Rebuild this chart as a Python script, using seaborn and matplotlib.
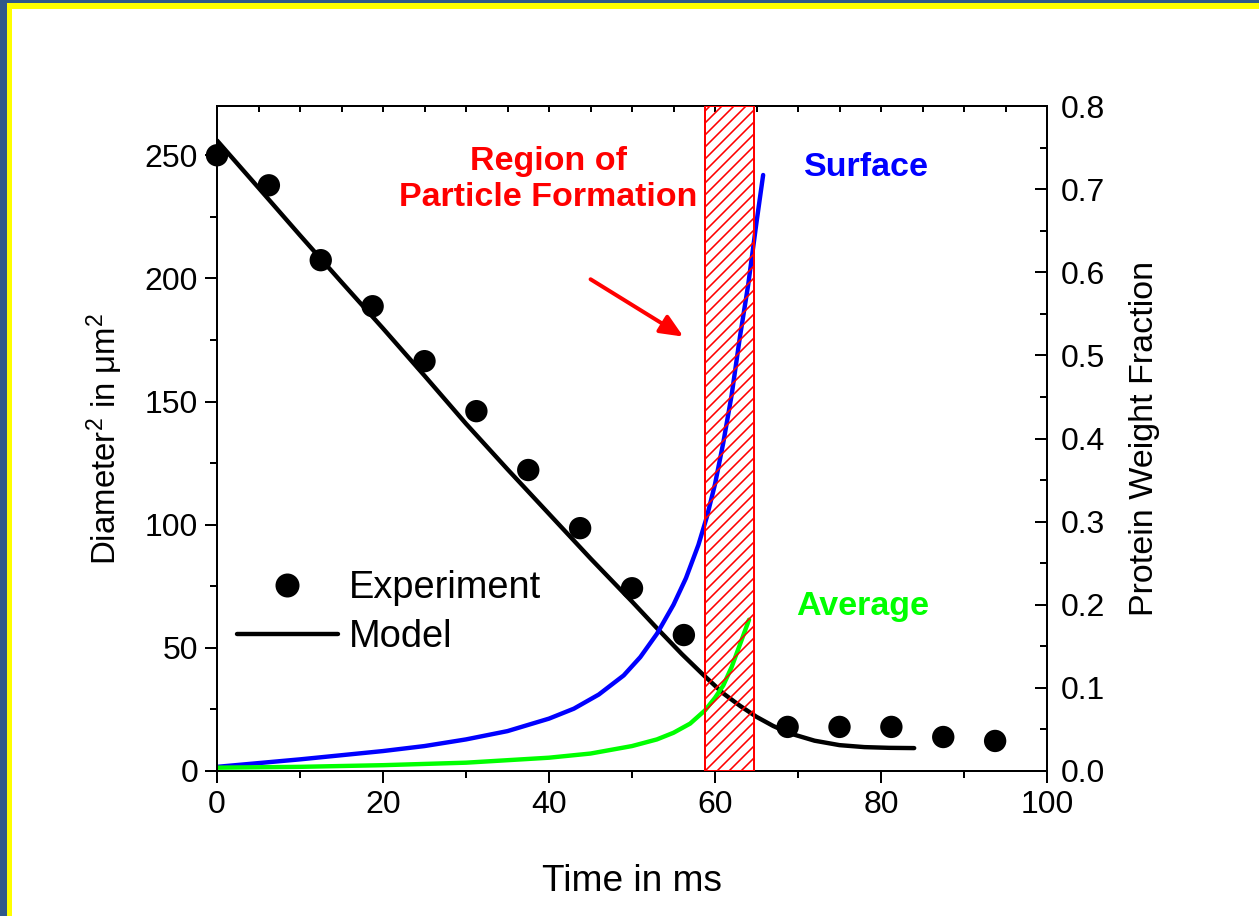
import numpy as np
import matplotlib
matplotlib.use("Agg")
import matplotlib.pyplot as plt
from matplotlib.patches import Rectangle
from matplotlib.lines import Line2D
from matplotlib.ticker import MultipleLocator, FormatStrFormatter
import seaborn as sns

# ---- data ----
exp_time = [0, 6.25, 12.5, 18.75, 25, 31.25, 37.5, 43.75, 50, 56.25, 68.75, 75, 81.25, 87.5, 93.75]
exp_d2 = [250, 237.8, 207.4, 188.7, 166.4, 146.1, 122.2, 98.6, 74.2, 55.2, 17.9, 17.9, 17.9, 13.8, 12.2]

model_time = [0, 5, 10, 15, 20, 25, 30, 35, 40, 45, 50, 53, 56, 58.6, 61, 63, 65, 67, 69, 72, 75, 78, 81, 84]
model_d2 = [256, 236.8, 217.5, 198.5, 179.7, 160.5, 141, 122.5, 104.4, 86.3, 68.8, 58, 47.5, 39,
            31.5, 26.5, 22, 18.3, 15.3, 12.3, 10.5, 9.7, 9.4, 9.3]

surf_time = [0, 10, 20, 25, 30, 35, 40, 43, 46, 49, 51, 53, 55, 56.5, 58, 59, 60, 61, 62, 63, 64, 65, 65.8]
surf_frac = [0.005, 0.014, 0.024, 0.030, 0.038, 0.048, 0.063, 0.075, 0.092, 0.115, 0.137, 0.165, 0.200,
             0.232, 0.272, 0.305, 0.345, 0.395, 0.452, 0.522, 0.585, 0.660, 0.717]

avg_time = [0, 10, 20, 30, 40, 45, 50, 53, 55, 57, 58.8, 60, 61, 62, 63, 64.1]
avg_frac = [0.004, 0.005, 0.007, 0.010, 0.016, 0.021, 0.030, 0.038, 0.046, 0.057, 0.073, 0.088,
            0.103, 0.125, 0.152, 0.182]

region = (58.8, 64.7)

# ---- style ----
sns.set_theme(style="ticks")
plt.rcParams['font.family'] = ['Liberation Sans', 'DejaVu Sans']
plt.rcParams['mathtext.fontset'] = 'custom'
plt.rcParams['mathtext.rm'] = 'Liberation Sans'
plt.rcParams['mathtext.it'] = 'Liberation Sans:italic'
plt.rcParams['text.color'] = 'black'
plt.rcParams['axes.labelcolor'] = 'black'
plt.rcParams['xtick.color'] = 'black'
plt.rcParams['ytick.color'] = 'black'
plt.rcParams['hatch.linewidth'] = 0.8
plt.rcParams['hatch.color'] = 'red'

fig = plt.figure(figsize=(1259 / 144, 916 / 144), dpi=144)
fig.patch.set_facecolor('#30598a')
fig.patches.append(Rectangle((7 / 1259, 0), 1, 1 - 3 / 916, transform=fig.transFigure,
                             facecolor='#ffff00', edgecolor='none', zorder=-10))
fig.patches.append(Rectangle((12 / 1259, 0), 1, 1 - 9 / 916, transform=fig.transFigure,
                             facecolor='white', edgecolor='none', zorder=-9))

ax = fig.add_axes([217 / 1259, 1 - 771 / 916, 830 / 1259, 665 / 916])
ax.set_facecolor('none')
ax2 = ax.twinx()

# left axis: diameter squared
sns.lineplot(x=model_time, y=model_d2, ax=ax, color='black', linewidth=2.2, zorder=3)
sns.scatterplot(x=exp_time, y=exp_d2, ax=ax, color='black', s=125, edgecolor='none',
                zorder=4, clip_on=False)

# right axis: protein weight fraction
sns.lineplot(x=surf_time, y=surf_frac, ax=ax2, color='#0000ff', linewidth=2.2)
sns.lineplot(x=avg_time, y=avg_frac, ax=ax2, color='#00ff00', linewidth=2.2)
ax2.axvspan(region[0], region[1], fill=False, hatch='////', edgecolor='red', linewidth=1.0, zorder=5)

ax.set_xlim(0, 100)
ax.set_ylim(0, 270)
ax2.set_ylim(0, 0.8)

ax.xaxis.set_major_locator(MultipleLocator(20))
ax.xaxis.set_minor_locator(MultipleLocator(10))
ax.yaxis.set_major_locator(MultipleLocator(50))
ax.yaxis.set_minor_locator(MultipleLocator(25))
ax2.yaxis.set_major_locator(MultipleLocator(0.1))
ax2.yaxis.set_minor_locator(MultipleLocator(0.05))
ax2.yaxis.set_major_formatter(FormatStrFormatter('%.1f'))

fs = 16
ax.tick_params(axis='both', which='major', direction='out', length=6, width=1, labelsize=fs, color='black')
ax.tick_params(axis='both', which='minor', direction='out', length=3.5, width=1, color='black')
ax2.tick_params(axis='y', which='major', direction='in', length=6, width=1, labelsize=fs,
                color='black', pad=7)
ax2.tick_params(axis='y', which='minor', direction='in', length=3.5, width=1, color='black')

top = ax.secondary_xaxis('top')
top.set_xticks(np.arange(0, 101, 5))
top.set_xticklabels([])
top.tick_params(direction='in', length=3, width=1, color='black')

for a in (ax, ax2):
    for sp in a.spines.values():
        sp.set_visible(True)
        sp.set_linewidth(1.0)
        sp.set_color('black')
top.spines['top'].set_linewidth(1.0)

ax.set_xlabel('Time in ms', fontsize=18.5, labelpad=22)
ax.set_ylabel('Diameter$^2$ in μm$^2$', fontsize=16.5, labelpad=10)
ax2.set_ylabel('Protein Weight Fraction', fontsize=17, labelpad=12)

# annotations
afs = 17
ax.text(39.9, 240, 'Region of\nParticle Formation', color='red', fontsize=afs, fontweight='bold',
        ha='center', va='center', linespacing=1.2)
ax.text(78.3, 245, 'Surface', color='#0000ff', fontsize=afs, fontweight='bold', ha='center', va='center')
ax.text(77.8, 66.6, 'Average', color='#00ff00', fontsize=afs, fontweight='bold', ha='center', va='center')
ax.annotate('', xy=(56.6, 175.5), xytext=(44.6, 200.5),
            arrowprops=dict(arrowstyle='-|>,head_length=0.8,head_width=0.35', color='red', lw=2))

# legend
handles = [Line2D([], [], marker='o', color='black', linestyle='none', markersize=11),
           Line2D([], [], color='black', linewidth=2.2)]
ax.legend(handles, ['Experiment', 'Model'], loc='upper left', bbox_to_anchor=(0.024, 0.302),
          frameon=False, fontsize=19, handlelength=2.65, handletextpad=0.3,
          labelspacing=0.35, borderpad=0, borderaxespad=0)

fig.savefig('out.png', dpi=144, facecolor=fig.get_facecolor())
